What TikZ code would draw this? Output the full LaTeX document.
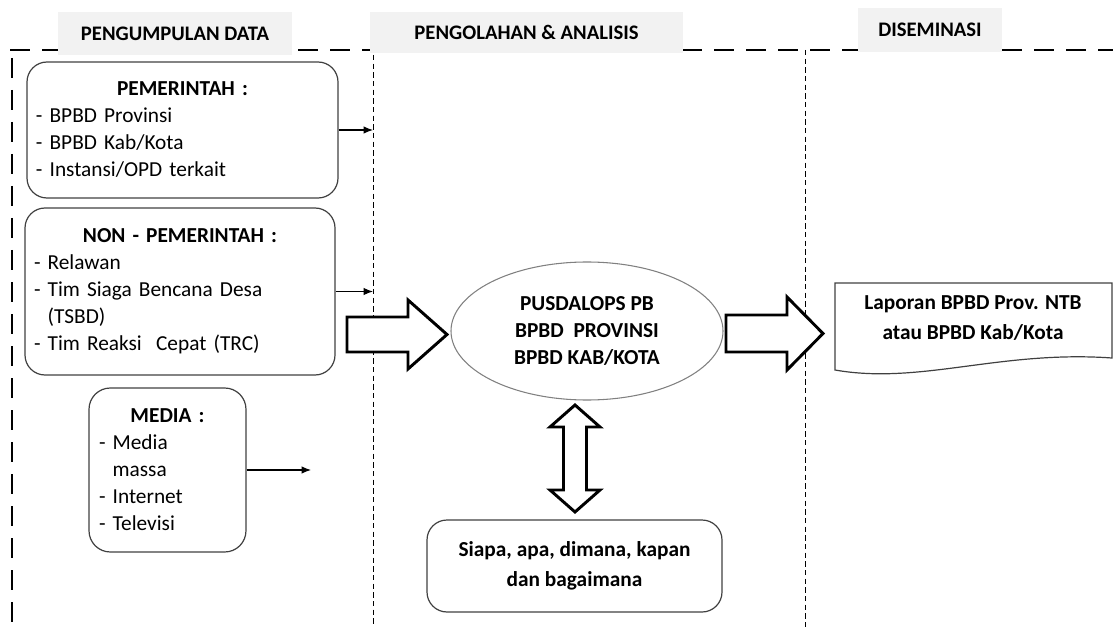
\documentclass[tikz,border=0pt]{standalone}
\usepackage{fontspec}
\setmainfont{Carlito}
\usepackage{tikz}
\usetikzlibrary{shapes.geometric,arrows.meta}
\definecolor{headgray}{RGB}{242,242,242}
\definecolor{boxline}{RGB}{64,64,64}

\begin{document}
\begin{tikzpicture}[x=0.75pt,y=-0.75pt,>={Latex[length=7pt,width=5.5pt]},
    font=\fontsize{16}{20.25}\selectfont,
    head/.style={fill=headgray,inner sep=0pt,font=\fontsize{15.5}{17}\selectfont\bfseries},
    source/.style={draw=boxline,line width=0.9pt,rounded corners=15pt,align=left,inner xsep=6.75pt,inner ysep=0pt},
    hollow/.style={draw=black,line width=2.2pt,fill=white,line join=miter},
    thickdash/.style={line width=2pt,dash pattern=on 15pt off 9pt},
    thindash/.style={line width=0.6pt,dash pattern=on 4pt off 2.5pt}]
  \useasboundingbox (0,0) rectangle (1113,627);

  % stage borders
  \draw[thickdash]
    (10,50)
    --
    (1113,50);
  \draw[thickdash]
    (12,58)
    --
    (12,627);
  \coordinate (divA) at (373,55);
  \coordinate (divB) at (805,50);
  \draw[thindash]
    (divA)
    --
    (373,627);
  \draw[thindash]
    (divB)
    --
    (805,627);

  % stage titles
  \node[head,minimum width=175.5pt,minimum height=32.25pt] (collect) at (175,33.5) {PENGUMPULAN DATA};
  \node[head,minimum width=234.75pt,minimum height=30.75pt] (process) at (526.5,32.5) {PENGOLAHAN \& ANALISIS};
  \node[head,minimum width=108pt,minimum height=33pt] (spread) at (930,30) {DISEMINASI};

  % data sources
  \node[source,text width=219.75pt,minimum height=102pt] (gov) at (182.5,130)
    {\noindent\makebox[\hsize]{\bfseries PEMERINTAH :}\\
     - BPBD Provinsi\\
     - BPBD Kab/Kota\\
     - Instansi/OPD terkait};
  \node[source,text width=219pt,minimum height=125.25pt] (nongov) at (180,291.5)
    {\noindent\makebox[\hsize]{\bfseries NON - PEMERINTAH :}\\
     - Relawan\\
     - Tim Siaga Bencana Desa\\
     \phantom{- }(TSBD)\\
     - Tim Reaksi\ \ Cepat (TRC)};
  \node[source,text width=102.75pt,minimum height=123pt,inner xsep=7.5pt,rounded corners=16pt] (media) at (167.5,470)
    {\noindent\makebox[\hsize]{\bfseries MEDIA :}\\
     - Media\\
     \phantom{- }massa\\
     - Internet\\
     - Televisi};
  \coordinate (mediaend) at (311,474);

  \draw[->,line width=0.8pt]
    (gov.east)
    --
    (gov.east -| divA);
  \draw[->,line width=0.8pt]
    (nongov.east)
    --
    (nongov.east -| divA);
  \draw[->,line width=0.8pt]
    (media.east)
    --
    (media.east -| mediaend);

  % processing
  \node[ellipse,draw=gray,line width=0.8pt,minimum width=204pt,minimum height=103.5pt,align=center,
    font=\fontsize{16}{19.9}\selectfont\bfseries] (pusdalops) at (587,331)
    {PUSDALOPS PB\\BPBD\ \ PROVINSI\\BPBD KAB/KOTA};
  \node[draw=boxline,line width=0.9pt,rounded corners=15pt,minimum width=221.25pt,minimum height=69pt,
    align=center,font=\fontsize{16}{22.5}\selectfont\bfseries] (questions) at (574.5,566)
    {Siapa, apa, dimana, kapan\\dan bagaimana};

  % report
  \draw[draw=boxline,line width=0.9pt]
    (835,283)
    --
    (1112,283)
    --
    (1112,358)
    .. controls (1000,350) and (920,385) ..
    (835,370)
    --
    cycle;
  \node[align=center,font=\fontsize{16}{22.5}\selectfont\bfseries] (report) at (973,318)
    {Laporan BPBD Prov. NTB\\atau BPBD Kab/Kota};

  % hollow arrows
  \draw[hollow]
    (347,317)
    --
    (408,317)
    --
    (408,300)
    --
    (447,334.5)
    --
    (408,369)
    --
    (408,352)
    --
    (347,352)
    --
    cycle;
  \draw[hollow]
    (726,315)
    --
    (787,315)
    --
    (787,297)
    --
    (823,333.5)
    --
    (787,370)
    --
    (787,352)
    --
    (726,352)
    --
    cycle;
  \draw[hollow]
    (575,405)
    --
    (600,427)
    --
    (586.5,427)
    --
    (586.5,490)
    --
    (600,490)
    --
    (575,512)
    --
    (550,490)
    --
    (563.5,490)
    --
    (563.5,427)
    --
    (550,427)
    --
    cycle;
\end{tikzpicture}
\end{document}
